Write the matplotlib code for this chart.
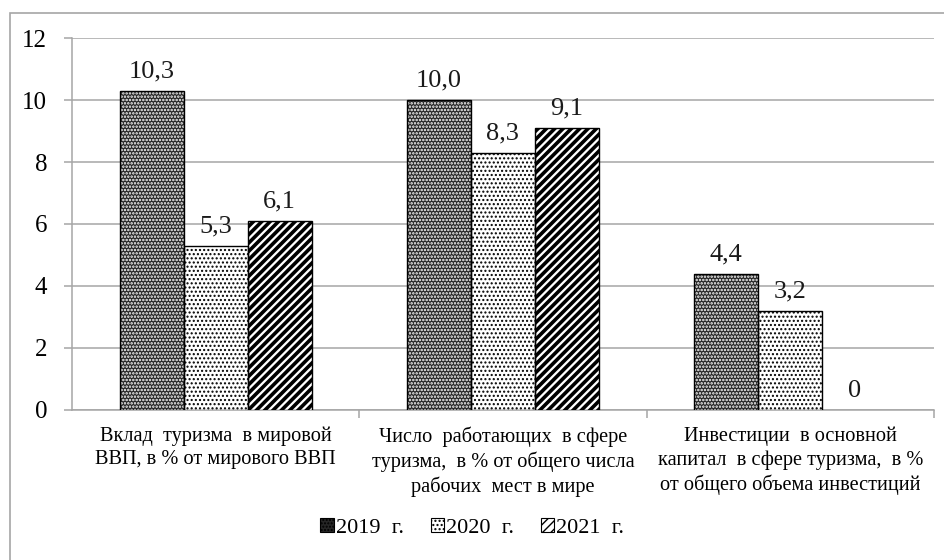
import matplotlib
matplotlib.use("Agg")
import matplotlib.pyplot as plt
from matplotlib.patches import Rectangle, Patch
import numpy as np

categories = [
    "Вклад  туризма  в мировой\nВВП, в % от мирового ВВП",
    "Число  работающих  в сфере\nтуризма,  в % от общего числа\nрабочих  мест в мире",
    "Инвестиции  в основной\nкапитал  в сфере туризма,  в %\nот общего объема инвестиций",
]
series = ["2019  г.", "2020  г.", "2021  г."]
v2019 = [10.3, 10.0, 4.4]
v2020 = [5.3, 8.3, 3.2]
v2021 = [6.1, 9.1, 0]
labels2019 = ["10,3", "10,0", "4,4"]
labels2020 = ["5,3", "8,3", "3,2"]
labels2021 = ["6,1", "9,1", "0"]
yticks = [0, 2, 4, 6, 8, 10, 12]

plt.rcParams['font.family'] = ['Liberation Serif', 'DejaVu Serif']

fig = plt.figure(figsize=(9.45, 5.6), dpi=100)
ax = fig.add_axes([0.0762, 0.268, 0.912, 0.664])

# figure border
fig.patches.append(Rectangle((10/945, -0.05), 1.2, 1 - 13/560 + 0.05,
                             transform=fig.transFigure, fill=False,
                             edgecolor='#a6a6a6', linewidth=1.2, zorder=0))

x = np.arange(len(categories))
w = 0.223
styles = [
    dict(face='#262626', hatch='.....', hcolor='white', hlw=1.2),
    dict(face='white', hatch='....', hcolor='black', hlw=1.0),
    dict(face='white', hatch='////', hcolor='black', hlw=2.6),
]
allvals = [v2019, v2020, v2021]
alllabels = [labels2019, labels2020, labels2021]

legend_handles = []
for i, (vals, labs, st) in enumerate(zip(allvals, alllabels, styles)):
    pos = x + (i - 1) * w
    bars = ax.bar(pos, vals, w, color=st['face'], edgecolor=st['hcolor'],
                  hatch=st['hatch'], linewidth=0, zorder=3)
    for b in bars:
        try:
            b.set_hatch_linewidth(st['hlw'])
        except Exception:
            pass
    outlines = ax.bar(pos, vals, w, facecolor='none', edgecolor='black', linewidth=1.0, zorder=4)
    for o, v in zip(outlines, vals):
        if v == 0:
            o.set_linewidth(0)
    for p, v, l in zip(pos, vals, labs):
        ax.annotate(l, (p, v), xytext=(0, 6), textcoords='offset points',
                    ha='center', va='bottom', fontsize=19, color='#1a1a1a')
    hp = Patch(facecolor=st['face'], edgecolor=st['hcolor'], hatch=st['hatch'], linewidth=0)
    try:
        hp.set_hatch_linewidth(min(st['hlw'], 1.6))
    except Exception:
        pass
    legend_handles.append(hp)

ax.set_ylim(0, 12)
ax.set_xlim(-0.5, 2.5)
ax.set_yticks(yticks)
ax.set_yticklabels([str(t) for t in yticks], fontsize=18)
ax.yaxis.grid(True, color='#a6a6a6', linewidth=1.1, zorder=0)
ax.set_axisbelow(True)

ax.set_xticks(x)
ax.set_xticklabels(categories, fontsize=14.6, linespacing=1.3)
ax.tick_params(axis='x', length=0, pad=12)
ax.set_xticks([0.5, 1.5, 2.5], minor=True)
ax.tick_params(axis='x', which='minor', length=6, color='#a6a6a6', width=1.1)
ax.tick_params(axis='y', length=6, color='#a6a6a6', width=1.1, pad=12)

for s in ['top', 'right']:
    ax.spines[s].set_visible(False)
for s in ['left', 'bottom']:
    ax.spines[s].set_color('#a6a6a6')
    ax.spines[s].set_linewidth(1.1)

leg = fig.legend(legend_handles, series, loc='center', bbox_to_anchor=(0.5, 1 - 528/560),
                 ncol=3, frameon=False, fontsize=16, handlelength=0.6, handleheight=0.6,
                 handletextpad=0.1, columnspacing=1.2)
for h in leg.legend_handles:
    h.set_edgecolor('black')
    h.set_linewidth(0.8)

fig.savefig("out.png", dpi=100)
